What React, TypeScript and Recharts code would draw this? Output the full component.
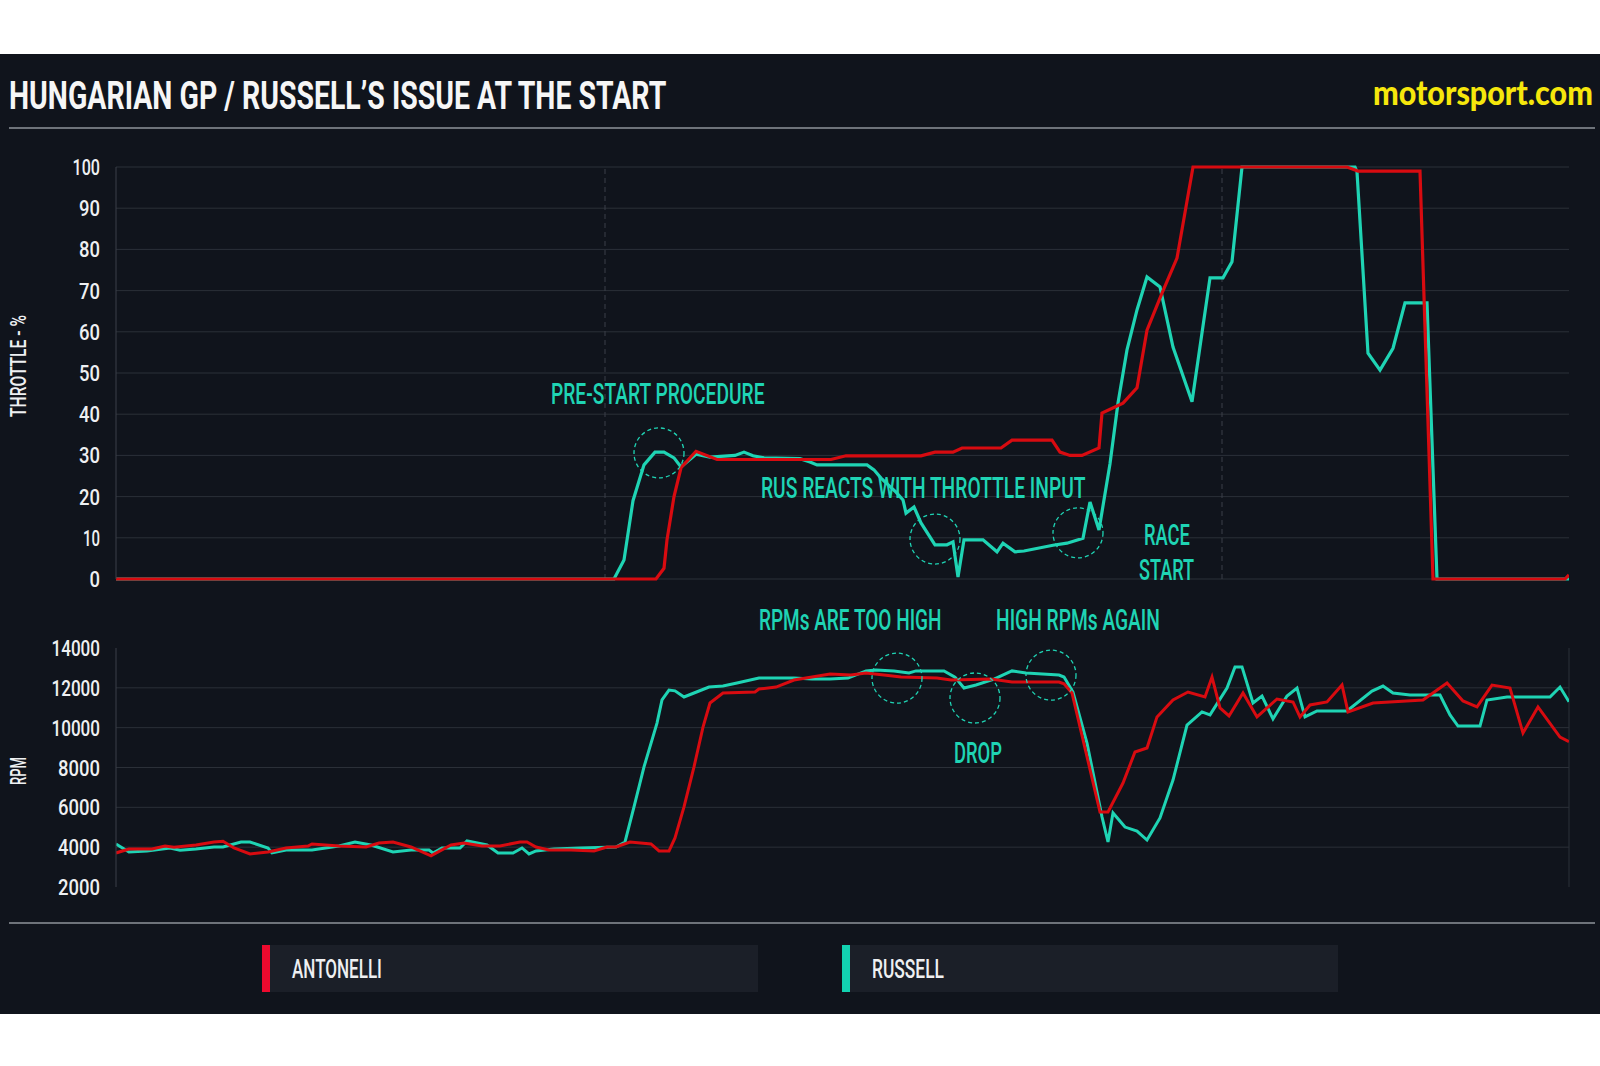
import {
  LineChart,
  Line,
  XAxis,
  YAxis,
  CartesianGrid,
  ReferenceLine,
  ReferenceDot,
} from "recharts";

// time axis: samples across the start sequence (arbitrary units)
const timeDomain: [number, number] = [0, 145.3];

const throttleTicks = [0, 10, 20, 30, 40, 50, 60, 70, 80, 90, 100];
const rpmTicks = [2000, 4000, 6000, 8000, 10000, 12000, 14000];
const rpmGrid = [4000, 6000, 8000, 10000, 12000];
const sectorMarks = [48.9, 110.6];

const drivers = ["ANTONELLI", "RUSSELL"];

// [time, throttle %]
const antonelliThrottle: [number, number][] = [
  [0, 0], [54.0, 0], [54.8, 2.6], [55.1, 9.5], [55.8, 20], [56.5, 27], [58.0, 31],
  [60.1, 29], [71.5, 29], [73.0, 29.9], [80.5, 29.9], [81.9, 30.8], [83.7, 30.8],
  [84.6, 31.8], [88.5, 31.8], [89.6, 33.7], [93.6, 33.7], [94.4, 30.8], [95.4, 30],
  [96.6, 30], [98.3, 31.8], [98.6, 40.3], [100.7, 42.7], [102.1, 46.4], [103.1, 60.4],
  [104.6, 69.4], [106.1, 77.9], [107.7, 100], [123.1, 100], [124.2, 99], [130.4, 99],
  [131.7, 0], [144.9, 0], [145.3, 1],
];

const russellThrottle: [number, number][] = [
  [0, 0], [49.8, 0], [50.8, 4.6], [51.7, 19], [52.8, 27.7], [53.9, 30.8], [54.8, 30.8],
  [55.8, 29.4], [56.5, 27.2], [58.0, 30.3], [59.4, 29.6], [61.9, 30], [62.8, 30.8],
  [63.7, 29.9], [64.8, 29.4], [68.4, 29.2], [69.4, 28.4], [70.1, 27.7], [75.1, 27.7],
  [75.8, 26.5], [76.5, 24.5], [78.0, 21.1], [78.7, 19.2], [79.0, 16], [79.8, 17.5],
  [80.5, 13.6], [81.9, 8.3], [83.1, 8.3], [83.7, 9], [84.2, 0.5], [84.8, 9.5],
  [86.7, 9.5], [88.1, 6.6], [88.7, 8.7], [89.9, 6.6], [90.8, 6.8], [93.7, 8.2],
  [95.1, 8.7], [96.7, 9.9], [97.4, 18.7], [98.3, 11.9], [99.4, 28], [100.2, 42.7],
  [101.1, 55.6], [102.1, 65.3], [103.1, 73.3], [104.4, 70.9], [105.7, 56.3],
  [107.6, 43], [109.4, 73.1], [110.7, 73.1], [111.6, 77], [112.6, 100], [123.9, 100],
  [124.1, 98.8], [125.2, 54.8], [126.4, 50.7], [127.7, 56], [128.9, 67], [131.1, 67],
  [132.1, 0], [145.3, 0],
];

// [time, rpm]
const antonelliRpm: [number, number][] = [
  [0, 3710], [1.3, 3910], [3.6, 3910], [4.9, 4060], [5.8, 4000], [8.0, 4110], [9.8, 4260],
  [10.7, 4300], [11.8, 3960], [13.4, 3660], [15.2, 3760], [17.0, 3960], [19.2, 4060],
  [19.6, 4160], [22.3, 4060], [25.0, 4010], [26.3, 4210], [27.7, 4260], [29.5, 4010],
  [31.5, 3560], [33.5, 4110], [34.8, 4210], [36.6, 4060], [38.4, 4060], [40.4, 4260],
  [41.1, 4260], [42.0, 4010], [43.3, 3860], [45.5, 3860], [47.8, 3810], [49.1, 4010],
  [50.0, 4010], [51.4, 4260], [53.5, 4160], [54.3, 3810], [55.3, 3810], [55.9, 4460],
  [56.8, 6020], [57.8, 8030], [58.7, 10030], [59.4, 11240], [60.7, 11740], [63.9, 11790],
  [64.3, 11940], [66.0, 12040], [67.8, 12390], [69.6, 12540], [71.4, 12690], [73.5, 12640],
  [75.0, 12750], [76.8, 12640], [78.5, 12540], [82.1, 12490], [83.5, 12390], [87.5, 12440],
  [89.6, 12290], [94.3, 12290], [94.8, 12200], [95.6, 11740], [98.4, 5770], [99.2, 5770],
  [100.7, 7220], [101.9, 8780], [103.1, 8980], [104.1, 10540], [105.7, 11390],
  [107.2, 11790], [108.9, 11540], [109.6, 12540], [110.4, 10990], [111.3, 10590],
  [112.7, 11740], [114.1, 10540], [116.1, 11440], [117.7, 11290], [118.4, 10540],
  [119.4, 11140], [121.1, 11290], [122.6, 12140], [123.2, 10790], [125.7, 11240],
  [130.7, 11390], [133.1, 12240], [134.7, 11340], [136.1, 11040], [137.6, 12140],
  [139.4, 11990], [140.7, 9730], [142.2, 11040], [144.4, 9530], [145.3, 9300],
];

const russellRpm: [number, number][] = [
  [0, 4160], [1.3, 3760], [3.1, 3810], [5.4, 3960], [6.4, 3850], [8.0, 3910], [9.8, 4010],
  [10.7, 4010], [12.5, 4260], [13.4, 4260], [15.2, 3960], [15.6, 3710], [17.0, 3860],
  [19.6, 3860], [22.3, 4060], [23.9, 4260], [25.5, 4110], [27.7, 3760], [29.5, 3860],
  [31.3, 3860], [31.7, 3710], [32.6, 3960], [34.4, 3960], [35.1, 4310], [37.1, 4110],
  [38.2, 3710], [39.7, 3710], [40.6, 3960], [41.3, 3660], [42.0, 3810], [43.8, 3910],
  [46.4, 3960], [50.0, 4010], [50.9, 4260], [51.8, 6020], [52.8, 8030], [54.1, 10230],
  [54.6, 11390], [55.3, 11890], [55.9, 11850], [56.8, 11540], [57.8, 11740], [59.3, 12040],
  [60.7, 12090], [62.1, 12240], [64.3, 12490], [67.8, 12490], [69.6, 12440], [71.4, 12440],
  [73.2, 12490], [75.0, 12850], [76.0, 12900], [77.8, 12850], [79.3, 12750], [80.0, 12850],
  [82.8, 12850], [83.9, 12540], [84.8, 11990], [86.0, 12140], [87.8, 12440], [89.6, 12850],
  [91.0, 12750], [94.3, 12640], [94.8, 12540], [95.7, 11790], [97.1, 9230], [98.6, 5520],
  [99.2, 4260], [99.7, 5720], [100.9, 5010], [102.1, 4810], [103.1, 4360], [104.4, 5470],
  [105.7, 7370], [107.1, 10130], [108.6, 10790], [109.4, 10640], [111.1, 11990],
  [111.9, 13050], [112.6, 13050], [113.7, 11240], [114.6, 11590], [115.7, 10440],
  [117.1, 11590], [118.1, 11990], [118.9, 10540], [120.1, 10840], [123.1, 10840],
  [125.6, 11840], [126.7, 12090], [127.7, 11740], [129.4, 11640], [132.4, 11640],
  [133.4, 10640], [134.2, 10080], [136.4, 10080], [137.1, 11390], [139.1, 11540],
  [143.4, 11540], [144.4, 12040], [145.3, 11300],
];

const toRows = (pts: [number, number][]) => pts.map(([t, v]) => ({ t, v }));

const FONT = "Roboto, 'Noto Sans', 'DejaVu Sans', sans-serif";
const LOGO_FONT = "Lato, 'Open Sans', sans-serif";
const BG = "#10141c";
const GRID = "#2b3038";
const AXIS = "#3a3f48";
const TEAL = "#1fd4b4";
const RED = "#d80b10";
const TEXT = "#eef0f2";

// condensed look: measure the text and squeeze it horizontally to the wanted width
const ctx = typeof document !== "undefined" ? document.createElement("canvas").getContext("2d") : null;
const squeeze = (s: string, w: number, size: number, weight: number, family: string) => {
  if (!ctx) return 1;
  ctx.font = `${weight} ${size}px ${family}`;
  const m = ctx.measureText(s).width;
  return m > 0 ? w / m : 1;
};

const tickWidth = (s: string) =>
  s.split("").reduce((w, c) => w + (c === "1" ? 6.5 : 10.5), 0);

const AxisTick = ({ x, y, payload }: any) => {
  const s = String(payload.value);
  const k = squeeze(s, tickWidth(s), 22, 500, FONT);
  return (
    <text
      transform={`translate(${x},${y + 8}) scale(${k},1)`}
      textAnchor="end"
      fill={TEXT}
      fontSize={22}
      fontWeight={500}
      fontFamily={FONT}
    >
      {s}
    </text>
  );
};

function Cond({ x, y, w, size, fill = TEAL, weight = 500, family = FONT, rotate = 0, anchor = "start", children }: any) {
  const k = squeeze(String(children), w, size, weight, family);
  return (
    <text
      transform={`translate(${x},${y}) rotate(${rotate}) scale(${k},1)`}
      fontSize={size}
      fontFamily={family}
      fontWeight={weight}
      fill={fill}
      textAnchor={anchor}
    >
      {children}
    </text>
  );
}

const circle = {
  r: 25,
  fill: "none",
  stroke: TEAL,
  strokeWidth: 1.3,
  strokeDasharray: "4 3",
  ifOverflow: "visible" as const,
};

export default function App() {
  return (
    <div style={{ position: "absolute", left: 0, top: 0, width: 1600, height: 1066, background: "#fff", overflow: "hidden" }}>
      <div style={{ position: "absolute", left: 0, top: 54, width: 1600, height: 960, background: BG }} />

      {/* throttle */}
      <div style={{ position: "absolute", left: 0, top: 0 }}>
        <LineChart width={1600} height={600} margin={{ top: 167, right: 31, bottom: 21, left: 56 }}>
          <CartesianGrid stroke={GRID} vertical={false} />
          <XAxis type="number" dataKey="t" domain={timeDomain} hide allowDataOverflow />
          <YAxis
            type="number"
            domain={[0, 100]}
            ticks={throttleTicks}
            width={60}
            tickSize={0}
            tickMargin={16}
            tickLine={false}
            axisLine={{ stroke: AXIS }}
            tick={<AxisTick />}
          />
          {sectorMarks.map((t) => (
            <ReferenceLine key={t} x={t} stroke={AXIS} strokeDasharray="5 4" />
          ))}
          <Line data={toRows(russellThrottle)} dataKey="v" type="linear" stroke={TEAL} strokeWidth={3.2} dot={false} isAnimationActive={false} />
          <Line data={toRows(antonelliThrottle)} dataKey="v" type="linear" stroke={RED} strokeWidth={3.2} dot={false} isAnimationActive={false} />
          <ReferenceDot x={54.3} y={30.6} {...circle} />
          <ReferenceDot x={81.9} y={9.7} {...circle} />
          <ReferenceDot x={96.2} y={11.2} {...circle} />
        </LineChart>
      </div>

      {/* rpm */}
      <div style={{ position: "absolute", left: 0, top: 600 }}>
        <LineChart width={1600} height={300} margin={{ top: 48, right: 31, bottom: 13, left: 56 }}>
          <CartesianGrid stroke={GRID} vertical={false} horizontalValues={rpmGrid} />
          <XAxis type="number" dataKey="t" domain={timeDomain} hide allowDataOverflow />
          <YAxis
            type="number"
            domain={[2000, 14000]}
            ticks={rpmTicks}
            width={60}
            tickSize={0}
            tickMargin={16}
            tickLine={false}
            axisLine={{ stroke: AXIS }}
            tick={<AxisTick />}
          />
          <ReferenceLine x={timeDomain[1]} stroke={GRID} />
          <Line data={toRows(russellRpm)} dataKey="v" type="linear" stroke={TEAL} strokeWidth={3} dot={false} isAnimationActive={false} />
          <Line data={toRows(antonelliRpm)} dataKey="v" type="linear" stroke={RED} strokeWidth={3} dot={false} isAnimationActive={false} />
          <ReferenceDot x={78.1} y={12490} {...circle} />
          <ReferenceDot x={85.9} y={11490} {...circle} />
          <ReferenceDot x={93.5} y={12640} {...circle} />
        </LineChart>
      </div>

      {/* titles, annotations, legend */}
      <svg width={1600} height={1066} style={{ position: "absolute", left: 0, top: 0, pointerEvents: "none" }}>
        <Cond x={9} y={109} w={659} size={38} fill="#f6f6f6" weight={700}>
          HUNGARIAN GP / RUSSELL’S ISSUE AT THE START
        </Cond>
        <Cond x={1373} y={105} w={220} size={34} fill="#f6e70c" weight={900} family={LOGO_FONT}>
          motorsport.com
        </Cond>
        <line x1={9} x2={1595} y1={128} y2={128} stroke="#8e939a" strokeWidth={1.5} />
        <line x1={9} x2={1595} y1={923} y2={923} stroke="#8e939a" strokeWidth={1.5} />

        <Cond x={26} y={366} w={102} size={22} fill={TEXT} rotate={-90} anchor="middle">THROTTLE - %</Cond>
        <Cond x={26} y={771} w={28} size={22} fill={TEXT} rotate={-90} anchor="middle">RPM</Cond>

        <Cond x={551} y={404} w={214} size={29}>PRE-START PROCEDURE</Cond>
        <Cond x={761} y={498} w={325} size={29}>RUS REACTS WITH THROTTLE INPUT</Cond>
        <Cond x={1144} y={545} w={46} size={29}>RACE</Cond>
        <Cond x={1139} y={580} w={55} size={29}>START</Cond>
        <Cond x={759} y={630} w={183} size={29}>RPMs ARE TOO HIGH</Cond>
        <Cond x={996} y={630} w={164} size={29}>HIGH RPMs AGAIN</Cond>
        <Cond x={954} y={763} w={48} size={29}>DROP</Cond>

        <rect x={262} y={945} width={496} height={47} fill="#1b1f28" />
        <rect x={262} y={945} width={8} height={47} fill="#ee0a2e" />
        <Cond x={292} y={978} w={90} size={26} fill={TEXT}>{drivers[0]}</Cond>
        <rect x={842} y={945} width={496} height={47} fill="#1b1f28" />
        <rect x={842} y={945} width={8} height={47} fill="#12d2b0" />
        <Cond x={872} y={978} w={72} size={26} fill={TEXT}>{drivers[1]}</Cond>
      </svg>
    </div>
  );
}
